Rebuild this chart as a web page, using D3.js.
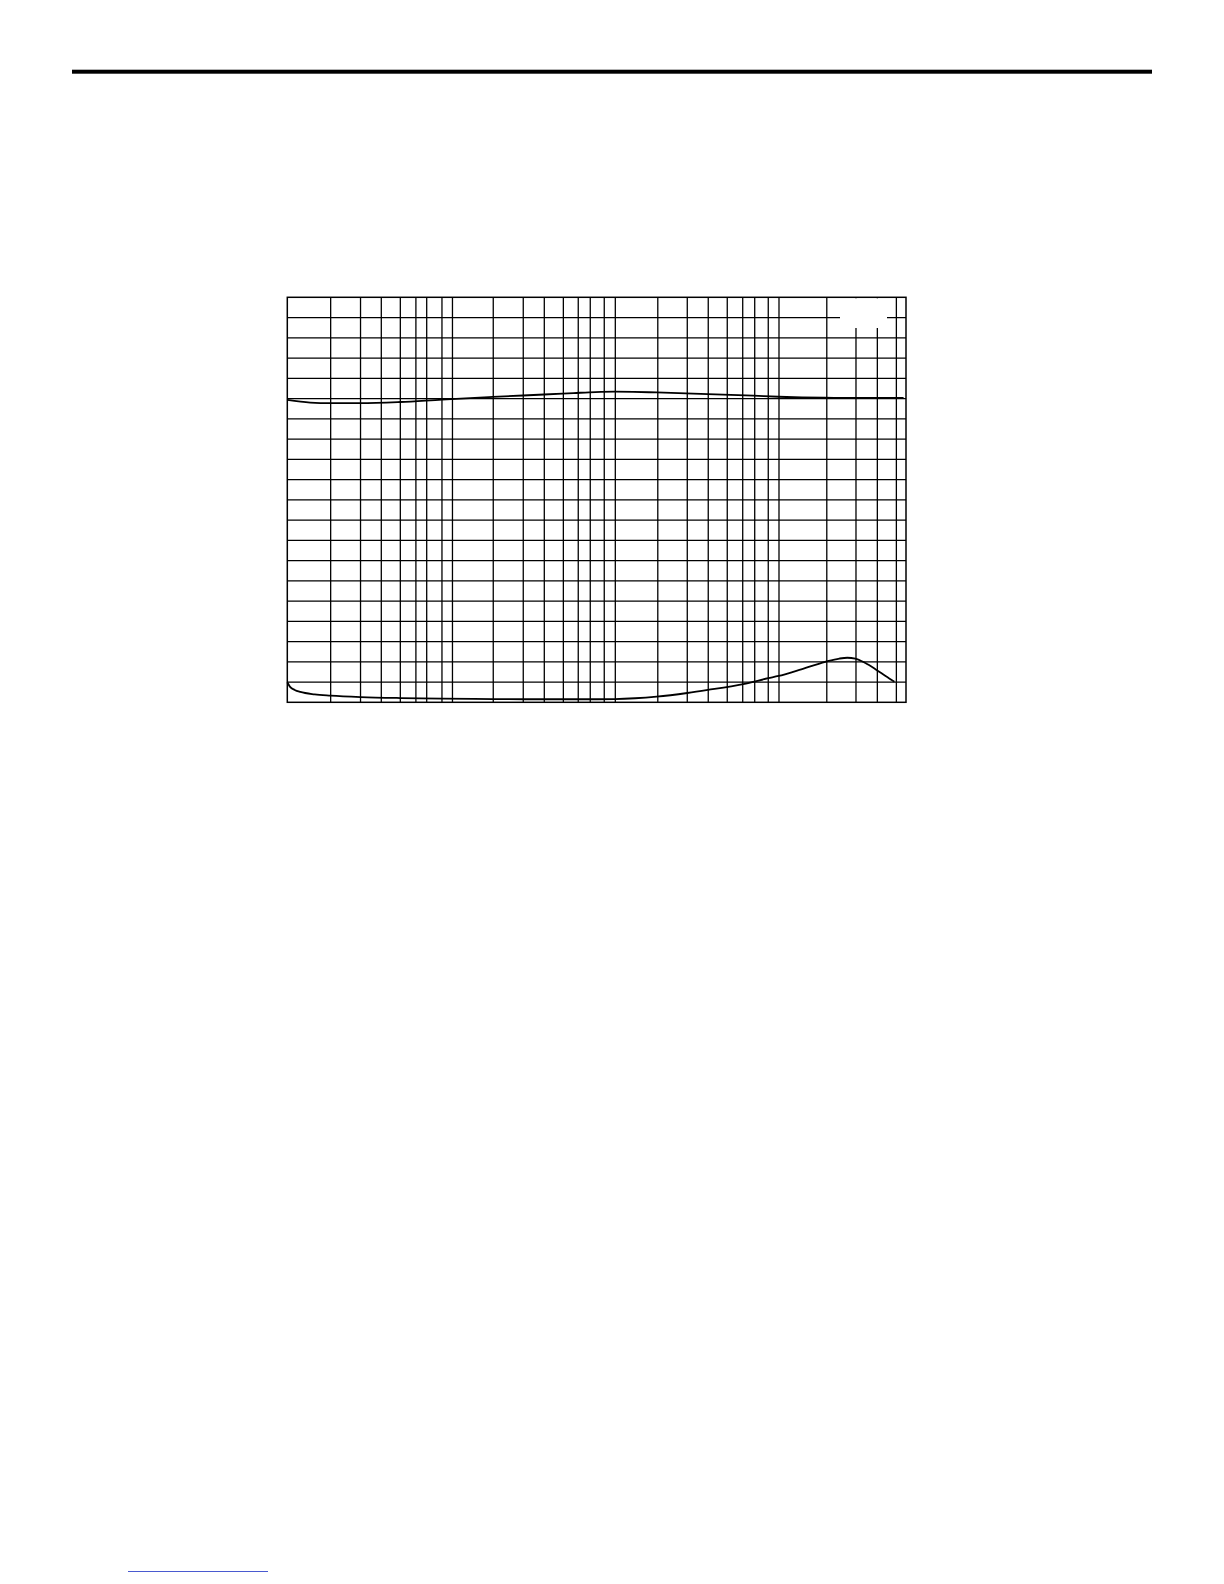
<!DOCTYPE html>
<html>
<head>
<meta charset="utf-8">
<script src="https://cdn.jsdelivr.net/npm/d3@7"></script>
<style>
  html, body { margin: 0; padding: 0; background: #fff; }
  svg { display: block; }
</style>
</head>
<body>
<svg id="chart" width="1224" height="1584"></svg>
<script>
// ---- data ----
// x axis: log frequency, no printed labels; domain edges
const xDomain = [10, 60000];
// vertical grid lines
const xGridLines = [18.4, 28, 37.5, 49, 61, 71, 88, 102,
                    181, 276, 371, 485, 598, 708, 862, 1007,
                    1830, 2770, 3720, 4860, 6040, 7150, 8650, 10060,
                    19700, 52400];
// partial grid lines (start below the blank label box)
const xPartialLines = [29700, 40100];
// y axis: 20 equal divisions, no printed labels
const yDomain = [0, 20];
const yGridLines = d3.range(1, 20);

// upper curve
const upperFreq  = [10, 13.8, 18.4, 28, 49, 88, 180, 370, 560, 760, 1000, 1300, 1800, 3700, 7000, 10000, 19000, 35000, 58000];
const upperValue = [14.93, 14.80, 14.77, 14.77, 14.83, 14.95, 15.08, 15.20, 15.27, 15.32, 15.34, 15.33, 15.30, 15.22, 15.14, 15.09, 15.04, 15.03, 15.03];

// lower curve
const lowerFreq  = [10, 10.4, 11.1, 12, 14.7, 18.4, 28, 49, 88, 180, 370, 700, 1000, 1330, 1800, 2770, 3700, 6080, 8660, 10000, 13400, 19300, 23500, 26300, 29400, 33900, 39600, 45000, 51000];
const lowerValue = [0.99, 0.76, 0.61, 0.51, 0.39, 0.33, 0.26, 0.21, 0.18, 0.16, 0.15, 0.15, 0.16, 0.20, 0.28, 0.46, 0.61, 0.90, 1.19, 1.30, 1.60, 2.00, 2.16, 2.20, 2.16, 1.94, 1.60, 1.30, 1.02];

// ---- drawing ----
const svg = d3.select("#chart");

const plot = { left: 287.3, right: 906, top: 297.3, bottom: 702.3 };
const x = d3.scaleLog().domain(xDomain).range([plot.left, plot.right]);
const y = d3.scaleLinear().domain(yDomain).range([plot.bottom, plot.top]);

// top page rule
svg.append("rect")
  .attr("x", 72).attr("y", 69.7)
  .attr("width", 1152 - 72).attr("height", 4)
  .attr("fill", "#000");

const g = svg.append("g");

// horizontal grid
g.selectAll("line.h").data(yGridLines).enter().append("line")
  .attr("class", "h")
  .attr("x1", plot.left).attr("x2", plot.right)
  .attr("y1", d => y(d)).attr("y2", d => y(d))
  .attr("stroke", "#000").attr("stroke-width", 1.3);

// vertical grid
g.selectAll("line.v").data(xGridLines).enter().append("line")
  .attr("class", "v")
  .attr("x1", d => x(d)).attr("x2", d => x(d))
  .attr("y1", plot.top).attr("y2", plot.bottom)
  .attr("stroke", "#000").attr("stroke-width", 1.3);

g.selectAll("line.vp").data(xPartialLines).enter().append("line")
  .attr("class", "vp")
  .attr("x1", d => x(d)).attr("x2", d => x(d))
  .attr("y1", plot.top).attr("y2", plot.bottom)
  .attr("stroke", "#000").attr("stroke-width", 1.3);

// blank label box in the top-right corner
g.append("rect")
  .attr("x", 840).attr("y", plot.top + 1)
  .attr("width", 887 - 840).attr("height", 328 - plot.top - 1)
  .attr("fill", "#fff");

// frame
g.append("rect")
  .attr("x", plot.left).attr("y", plot.top)
  .attr("width", plot.right - plot.left).attr("height", plot.bottom - plot.top)
  .attr("fill", "none").attr("stroke", "#000").attr("stroke-width", 1.5);

// curves
const line = d3.line()
  .x(d => x(d[0])).y(d => y(d[1]))
  .curve(d3.curveMonotoneX);

const upper = upperFreq.map((f, i) => [f, upperValue[i]]);
const lower = lowerFreq.map((f, i) => [f, lowerValue[i]]);

g.append("path").datum(upper)
  .attr("d", line).attr("fill", "none")
  .attr("stroke", "#000").attr("stroke-width", 1.8);

g.append("path").datum(lower)
  .attr("d", line).attr("fill", "none")
  .attr("stroke", "#000").attr("stroke-width", 1.8);

// faint blue rule at page bottom
svg.append("line")
  .attr("x1", 128).attr("x2", 268)
  .attr("y1", 1571.5).attr("y2", 1571.5)
  .attr("stroke", "#4a5ad0").attr("stroke-width", 1);
</script>
</body>
</html>
